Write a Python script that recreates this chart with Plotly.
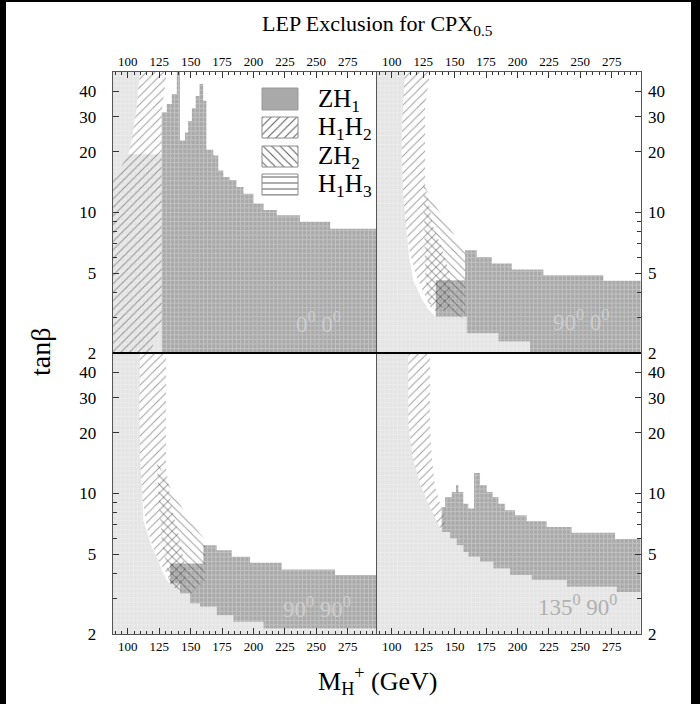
import numpy as np
import plotly.graph_objects as go

SERIF = "Liberation Serif"

# axis ranges shared by all four panels
MH_RANGE = [88, 298]          # M_H+ (GeV)
TB_RANGE = [2, 50]            # tan(beta)

X_MAJOR = [100, 125, 150, 175, 200, 225, 250, 275]
X_MINOR = list(range(90, 300, 5))
Y_MAJOR = [2, 5, 10, 20, 30, 40]
Y_MINOR = [3, 4, 6, 7, 8, 9]

# ---------------- phases 0°, 0° (upper left) ----------------
tl_light_x = [88, 109.7, 107.1, 103.1, 100.5, 127]
tl_light_tb = [50, 50, 33.4, 22.8, 19.5, 19.5]
tl_zh1_top_x = [127, 131, 135, 139, 141.5, 145.5, 148, 151, 154, 157, 160, 162.5,
                168, 172, 176, 181, 186.5, 192, 200, 208, 218.5, 237, 261, 298]
tl_zh1_top = [31.5, 34.7, 38.9, 50, 22.8, 25, 28.5, 33, 38, 43.6, 36, 20.5,
              19.2, 16.2, 15.0, 14.5, 13.4, 12.4, 11.1, 10.3, 9.7, 9.0, 8.3]
tl_zh1_bot_x = [127, 298]
tl_zh1_bot = [2]
tl_h1h2_x = [109.7, 131, 127, 127, 117.7, 88, 88, 100.5, 103.1, 107.1]
tl_h1h2_tb = [50, 50, 31.5, 2.8, 2, 2, 14.4, 19.5, 22.8, 33.4]

# ---------------- phases 90°, 0° (upper right) ----------------
tr_light_x = [88, 110.5, 108.2, 107.9, 109.2, 111.3, 113.5, 117.0, 124.0, 129.0, 135.0]
tr_light_tb = [50, 50, 27.6, 18.8, 11.9, 8.47, 6.25, 4.6, 3.7, 3.3, 3.03]
tr_zh1_top_x = [135, 158.3, 167.6, 179.5, 195.4, 220.6, 268.3, 298]
tr_zh1_top = [4.6, 6.49, 6.0, 5.57, 5.2, 4.88, 4.57]
tr_zh1_bot_x = [135, 159.6, 184.8, 210, 298]
tr_zh1_bot = [3.03, 2.51, 2.28, 2.0]
tr_h1h2_x = [110.5, 108.2, 107.9, 109.2, 111.3, 114.5, 119.8, 126.5, 130.4, 135.7,
             146.3, 146.3, 139.7, 133.1, 126.5, 126.5, 130.4]
tr_h1h2_tb = [50, 27.6, 18.8, 11.9, 8.47, 6.25, 4.78, 3.81, 3.40, 3.21,
              3.27, 4.97, 6.74, 8.47, 13.9, 33.4, 50]
tr_zh2_x = [125.1, 135.7, 149.0, 158.3, 158.3, 146.3, 129.1, 126.5]
tr_zh2_tb = [13.9, 10.6, 7.85, 6.37, 2.92, 3.27, 3.53, 4.97]

# ---------------- phases 90°, 90° (lower left) ----------------
bl_light_x = [88, 109.7, 109.2, 109.7, 111.9, 112.4, 119.0, 124.3, 127.0, 131.0, 133.6]
bl_light_tb = [50, 50, 26.9, 15.2, 9.25, 7.36, 5.43, 4.66, 4.16, 3.71, 3.57]
bl_zh1_top_x = [133.6, 160.1, 170.7, 182.7, 197.3, 222.4, 264.9, 298]
bl_zh1_top = [4.49, 5.53, 5.22, 4.84, 4.52, 4.19, 3.93]
bl_zh1_bot_x = [133.6, 141.6, 149.5, 157.5, 170.7, 184, 207.9, 298]
bl_zh1_bot = [3.57, 3.18, 2.84, 2.73, 2.48, 2.30, 2.13]
bl_h1h2_x = [109.7, 109.2, 109.7, 111.9, 115.0, 119.0, 124.3, 131.0, 134.9,
             141.6, 146.9, 141.6, 134.9, 130.4, 130.4]
bl_h1h2_tb = [50, 26.9, 15.2, 9.25, 6.82, 5.64, 4.66, 4.0, 3.44,
              3.31, 4.0, 5.86, 8.57, 13.5, 50]
bl_zh2_x = [123.0, 136.3, 149.5, 161.5, 161.5, 149.5, 133.6, 127.0, 124.3]
bl_zh2_tb = [14.6, 9.98, 7.36, 5.86, 3.71, 3.12, 3.50, 5.86, 9.98]

# ---------------- phases 135°, 90° (lower right) ----------------
br_light_x = [88, 113.2, 113.2, 116.6, 122.5, 129.1, 135.7, 139.7]
br_light_tb = [50, 50, 22.2, 15.2, 11.2, 8.90, 7.36, 6.44]
br_zh1_top_x = [139.7, 142.4, 147.7, 151.1, 153, 156.9, 160.9, 165.4, 170.2, 175.5,
                180.3, 184.8, 190.1, 198, 207.3, 223.2, 243.1, 277.6, 298]
br_zh1_top = [8.57, 9.61, 10.17, 10.98, 10.17, 8.90, 8.41, 12.64, 10.98, 10.17,
              9.61, 8.90, 8.25, 7.79, 7.27, 6.82, 6.37, 5.94]
br_zh1_bot_x = [139.7, 146.3, 151.6, 156.9, 160.9, 170.2, 180.8, 194.1, 211.3, 239.2, 278.9, 298]
br_zh1_bot = [6.44, 5.97, 5.53, 5.12, 4.84, 4.57, 4.24, 3.93, 3.71, 3.44, 3.24]
br_h1h2_x = [113.2, 113.2, 116.6, 122.5, 129.1, 135.7, 139.7, 142.4, 138.4, 134.4, 131.8, 130.4, 130.4]
br_h1h2_tb = [50, 22.2, 15.2, 11.2, 8.90, 7.36, 6.44, 7.36, 8.90, 10.8, 15.2, 22.2, 50]

PANEL_LABELS = ["0<sup>0</sup> 0<sup>0</sup>", "90<sup>0</sup> 0<sup>0</sup>",
                "90<sup>0</sup> 90<sup>0</sup>", "135<sup>0</sup> 90<sup>0</sup>"]
LEGEND_NAMES = ["ZH<sub>1</sub>", "H<sub>1</sub>H<sub>2</sub>",
                "ZH<sub>2</sub>", "H<sub>1</sub>H<sub>3</sub>"]

W, H = 700, 704
LIGHT = "#e4e4e4"
DARK = "#a9a9a9"
HATCH = "#3a3a3a"

# panel frames in figure pixels
LEFT0, MID, RIGHT1 = 112.7, 376.7, 640.7
TOP0, HMID, BOT1 = 72.0, 353.0, 634.0


def stairs(edges, vals):
    xs, ys = [], []
    for i, v in enumerate(vals):
        xs += [edges[i], edges[i + 1]]
        ys += [v, v]
    return xs, ys


def tl_data(px_x, px_y):
    """figure pixel -> data coordinates of the upper-left panel"""
    x = MH_RANGE[0] + (px_x - LEFT0) * (MH_RANGE[1] - MH_RANGE[0]) / (MID - LEFT0)
    lo, hi = np.log10(TB_RANGE[0]), np.log10(TB_RANGE[1])
    y = 10 ** (lo + (HMID - px_y) * (hi - lo) / (HMID - TOP0))
    return x, y


fig = go.Figure()

panels = [
    dict(ax=("x", "y"), light=(tl_light_x, tl_light_tb),
         top=(tl_zh1_top_x, tl_zh1_top), bot=(tl_zh1_bot_x, tl_zh1_bot),
         h1h2=(tl_h1h2_x, tl_h1h2_tb), zh2=None),
    dict(ax=("x2", "y2"), light=(tr_light_x, tr_light_tb),
         top=(tr_zh1_top_x, tr_zh1_top), bot=(tr_zh1_bot_x, tr_zh1_bot),
         h1h2=(tr_h1h2_x, tr_h1h2_tb), zh2=(tr_zh2_x, tr_zh2_tb)),
    dict(ax=("x3", "y3"), light=(bl_light_x, bl_light_tb),
         top=(bl_zh1_top_x, bl_zh1_top), bot=(bl_zh1_bot_x, bl_zh1_bot),
         h1h2=(bl_h1h2_x, bl_h1h2_tb), zh2=(bl_zh2_x, bl_zh2_tb)),
    dict(ax=("x4", "y4"), light=(br_light_x, br_light_tb),
         top=(br_zh1_top_x, br_zh1_top), bot=(br_zh1_bot_x, br_zh1_bot),
         h1h2=(br_h1h2_x, br_h1h2_tb), zh2=None),
]

# cell texture of the scan grid
GRID_NX, GRID_NY = 64, 62
gx = np.linspace(MH_RANGE[0], MH_RANGE[1], GRID_NX + 1)
gy = np.geomspace(TB_RANGE[0], TB_RANGE[1], GRID_NY + 1)
grid_x, grid_y = [], []
for v in gx[1:-1]:
    grid_x += [v, v, None]
    grid_y += [TB_RANGE[0], TB_RANGE[1], None]
for v in gy[1:-1]:
    grid_x += [MH_RANGE[0], MH_RANGE[1], None]
    grid_y += [v, v, None]

for p in panels:
    xa, ya = p["ax"]
    bx, by = stairs(*p["bot"])
    tx, ty = stairs(*p["top"])
    # light region: its boundary, then under the ZH1 band down to the bottom edge
    lx = list(p["light"][0]) + bx + [MH_RANGE[1], MH_RANGE[0]]
    ly = list(p["light"][1]) + by + [TB_RANGE[0], TB_RANGE[0]]
    fig.add_trace(go.Scatter(x=lx, y=ly, fill="toself", fillcolor=LIGHT, mode="lines",
                             line=dict(width=0, color=LIGHT), xaxis=xa, yaxis=ya,
                             hoverinfo="skip", showlegend=False))
    fig.add_trace(go.Scatter(x=tx + bx[::-1], y=ty + by[::-1], fill="toself", fillcolor=DARK,
                             mode="lines", line=dict(width=0, color=DARK), xaxis=xa, yaxis=ya,
                             hoverinfo="skip", showlegend=False))
    fig.add_trace(go.Scatter(x=grid_x, y=grid_y, mode="lines", line=dict(color="white", width=1),
                             opacity=0.28, xaxis=xa, yaxis=ya, hoverinfo="skip", showlegend=False))
    hx, hy = p["h1h2"]
    fig.add_trace(go.Scatter(x=hx, y=hy, fill="toself", fillcolor="rgba(0,0,0,0)", mode="lines",
                             line=dict(width=0, color="rgba(0,0,0,0)"),
                             fillpattern=dict(shape="/", fgcolor=HATCH, bgcolor="rgba(0,0,0,0)",
                                              size=6, solidity=0.16),
                             xaxis=xa, yaxis=ya, hoverinfo="skip", showlegend=False))
    if p["zh2"] is not None:
        zx, zy = p["zh2"]
        fig.add_trace(go.Scatter(x=zx, y=zy, fill="toself", fillcolor="rgba(0,0,0,0)", mode="lines",
                                 line=dict(width=0, color="rgba(0,0,0,0)"),
                                 fillpattern=dict(shape="\\", fgcolor=HATCH, bgcolor="rgba(0,0,0,0)",
                                                  size=6, solidity=0.16),
                                 xaxis=xa, yaxis=ya, hoverinfo="skip", showlegend=False))

# legend keys inside the upper-left panel
key_px = (262, 298)
key_rows = [(88, 110), (117, 138), (146, 167), (174, 195)]
key_shapes = [None, "/", "\\", "-"]
for (y0, y1), shp in zip(key_rows, key_shapes):
    (ax0, ay0), (ax1, ay1) = tl_data(key_px[0], y0), tl_data(key_px[1], y1)
    kw = dict(x=[ax0, ax1, ax1, ax0, ax0], y=[ay0, ay0, ay1, ay1, ay0],
              fill="toself", mode="lines", xaxis="x", yaxis="y",
              hoverinfo="skip", showlegend=False)
    if shp is None:
        fig.add_trace(go.Scatter(fillcolor=DARK, line=dict(color="#9a9a9a", width=1), **kw))
    else:
        fig.add_trace(go.Scatter(fillcolor="white", line=dict(color="#8a8a8a", width=1),
                                 fillpattern=dict(shape=shp, fgcolor="#555", bgcolor="white",
                                                  size=6, solidity=0.16, fillmode="replace"),
                                 **kw))


def px(v):
    return v / W


def py(v):
    return 1 - v / H


def text(x, y, s, size, color="black", **extra):
    d = dict(x=px(x), y=py(y), xref="paper", yref="paper", text=s, showarrow=False,
             xanchor="center", yanchor="middle",
             font=dict(family=SERIF, size=size, color=color))
    d.update(extra)
    return d


ann = []
for name, (y0, y1) in zip(LEGEND_NAMES, key_rows):
    ann.append(text(316, (y0 + y1) / 2 + 1, name, 25, xanchor="left"))

# phase labels: pale on the dark band, mid grey on the light area
label_pos = [(318, 322), (581, 320), (317, 607), (577, 605)]
label_col = ["#cdcdcd", "#cdcdcd", "#cdcdcd", "#b0b0b0"]
for txt, (lx_, ly_), col in zip(PANEL_LABELS, label_pos, label_col):
    ann.append(text(lx_, ly_, txt, 23, color=col))

ann.append(text(377, 25, "LEP Exclusion for CPX<sub>0.5</sub>", 22))
ann.append(text(377, 681, "M<sub>H</sub><sup>+</sup> (GeV)", 26))
ann.append(text(40, 352, "tanβ", 28, textangle=-90))

XL = [LEFT0 / W, MID / W]
XR = [MID / W, RIGHT1 / W]
YT = [1 - HMID / H, 1 - TOP0 / H]
YB = [1 - BOT1 / H, 1 - HMID / H]


def xaxis_cfg(domain, anchor, side):
    return dict(domain=domain, anchor=anchor, side=side, range=MH_RANGE, automargin=False,
                showline=True, linecolor="#555", linewidth=1, mirror=True,
                ticks="inside", tickvals=X_MAJOR, ticktext=[str(v) for v in X_MAJOR],
                ticklen=6, tickcolor="#333", tickwidth=1,
                minor=dict(tickvals=X_MINOR, ticks="inside", ticklen=3, tickcolor="#333"),
                showgrid=False, zeroline=False,
                tickfont=dict(family=SERIF, size=13, color="black"), fixedrange=True)


def yaxis_cfg(domain, anchor, side, standoff):
    return dict(domain=domain, anchor=anchor, side=side, type="log", automargin=False,
                range=[np.log10(TB_RANGE[0]), np.log10(TB_RANGE[1])],
                showline=True, linecolor="#555", linewidth=1, mirror=True,
                ticks="inside", tickvals=Y_MAJOR, ticktext=[str(v) for v in Y_MAJOR],
                ticklen=6, tickcolor="#333", tickwidth=1, ticklabelstandoff=standoff,
                minor=dict(tickvals=Y_MINOR, ticks="inside", ticklen=4, tickcolor="#333"),
                showgrid=False, zeroline=False,
                tickfont=dict(family=SERIF, size=17, color="black"), fixedrange=True)


fig.update_layout(
    width=W, height=H, autosize=False,
    margin=dict(l=0, r=0, t=0, b=0, pad=0, autoexpand=False),
    paper_bgcolor="white", plot_bgcolor="rgba(0,0,0,0)", showlegend=False,
    xaxis=xaxis_cfg(XL, "y", "top"), yaxis=yaxis_cfg(YT, "x", "left", 12),
    xaxis2=xaxis_cfg(XR, "y2", "top"), yaxis2=yaxis_cfg(YT, "x2", "right", 3),
    xaxis3=xaxis_cfg(XL, "y3", "bottom"), yaxis3=yaxis_cfg(YB, "x3", "left", 12),
    xaxis4=xaxis_cfg(XR, "y4", "bottom"), yaxis4=yaxis_cfg(YB, "x4", "right", 3),
    annotations=ann,
    shapes=[
        dict(type="line", xref="paper", yref="paper", x0=XL[0], x1=XR[1], y0=YT[0], y1=YT[0],
             line=dict(color="black", width=2)),
        dict(type="rect", xref="paper", yref="paper", x0=0, x1=6 / W, y0=0, y1=1,
             fillcolor="black", line=dict(width=0)),
        dict(type="rect", xref="paper", yref="paper", x0=0, x1=1, y0=1 - 2 / H, y1=1,
             fillcolor="black", line=dict(width=0)),
        dict(type="rect", xref="paper", yref="paper", x0=1 - 9 / W, x1=1, y0=0, y1=1,
             fillcolor="black", line=dict(width=0)),
    ],
)

fig.write_html("out.html")
